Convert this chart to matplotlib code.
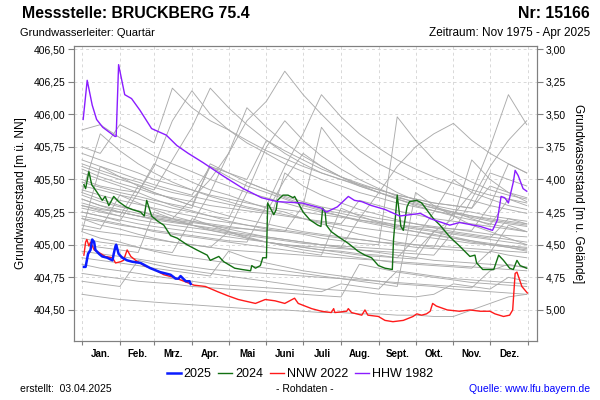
import matplotlib
matplotlib.use("Agg")
import matplotlib.pyplot as plt
from matplotlib.ticker import FuncFormatter

plt.rcParams['font.family'] = ['Liberation Sans', 'DejaVu Sans']

GROUND = 409.50  # Gelaendehoehe [m ü. NN]

month_edges = [0, 31, 59, 90, 120, 151, 181, 212, 243, 273, 304, 334, 365]
month_names = ['Jan.', 'Feb.', 'Mrz.', 'Apr.', 'Mai', 'Juni', 'Juli', 'Aug.',
               'Sept.', 'Okt.', 'Nov.', 'Dez.']
left_ticks = [404.50, 404.75, 405.00, 405.25, 405.50, 405.75, 406.00, 406.25, 406.50]
right_ticks = [3.00, 3.25, 3.50, 3.75, 4.00, 4.25, 4.50, 4.75, 5.00]

grey_days = [0, 15, 31, 46, 59, 74, 90, 105, 120, 135, 151, 166, 181, 196, 212,
             227, 243, 258, 273, 288, 304, 319, 334, 349, 364]
grey_years = [
    [405.55, 405.50, 405.45, 405.40, 405.62, 405.55, 405.48, 405.42, 405.38, 405.33, 405.28, 405.25, 405.20, 405.16, 405.12, 405.08, 405.05, 405.02, 405.00, 404.98, 405.25, 405.20, 405.15, 405.35, 405.30],
    [405.30, 405.26, 405.22, 405.45, 405.40, 405.35, 405.30, 405.60, 405.52, 405.45, 405.40, 405.35, 405.30, 405.26, 405.22, 405.18, 405.15, 405.12, 405.10, 405.08, 405.05, 405.02, 405.00, 404.98, 404.95],
    [405.75, 405.70, 405.92, 405.85, 405.78, 406.20, 406.05, 405.95, 405.88, 405.80, 405.72, 405.66, 405.60, 405.55, 405.50, 405.46, 405.42, 405.38, 405.35, 405.32, 405.30, 405.28, 405.45, 405.40, 405.36],
    [405.40, 405.35, 405.30, 405.26, 405.22, 405.20, 405.35, 405.50, 405.70, 405.95, 406.10, 406.33, 406.15, 406.00, 405.85, 405.72, 405.62, 405.55, 405.48, 405.42, 405.38, 405.34, 405.30, 405.27, 405.24],
    [404.62, 404.60, 404.58, 404.57, 404.56, 404.55, 404.54, 404.53, 404.52, 404.51, 404.50, 404.50, 404.49, 404.48, 404.48, 404.47, 404.47, 404.46, 404.46, 404.45, 404.45, 404.50, 404.55, 404.60, 404.62],
    [404.72, 404.70, 404.68, 404.88, 404.85, 404.82, 404.80, 404.78, 404.76, 404.74, 404.72, 404.70, 404.68, 404.66, 404.65, 404.64, 404.62, 404.61, 404.60, 404.62, 404.70, 404.68, 404.66, 404.75, 404.72],
    [405.10, 405.05, 405.02, 404.98, 404.95, 404.92, 404.90, 404.88, 404.86, 404.84, 404.82, 404.80, 404.78, 404.76, 404.74, 404.72, 404.70, 404.68, 405.40, 405.30, 405.22, 405.15, 405.10, 405.05, 405.00],
    [405.20, 405.15, 405.12, 405.08, 405.05, 405.02, 405.00, 404.98, 405.10, 405.05, 405.02, 405.00, 404.98, 404.96, 404.95, 404.93, 404.92, 404.90, 405.05, 405.25, 405.50, 405.40, 405.75, 406.15, 405.92],
    [405.35, 405.30, 405.25, 405.22, 405.20, 405.18, 405.15, 405.12, 405.10, 405.08, 405.06, 405.04, 405.02, 405.00, 404.98, 405.20, 405.40, 405.60, 405.75, 405.85, 405.93, 405.80, 405.70, 405.62, 405.55],
    [405.25, 405.22, 405.18, 405.40, 405.35, 405.30, 405.26, 405.22, 405.18, 405.15, 405.12, 405.10, 405.08, 405.05, 405.03, 405.01, 405.00, 405.98, 405.80, 405.65, 405.55, 405.48, 405.42, 405.38, 405.35],
    [405.60, 405.55, 405.50, 405.46, 405.42, 405.65, 405.90, 406.20, 406.05, 405.92, 405.80, 405.70, 405.62, 405.55, 405.50, 405.45, 405.40, 405.36, 405.33, 405.30, 405.27, 405.25, 405.22, 405.20, 405.18],
    [405.45, 405.42, 405.38, 405.35, 405.32, 405.28, 405.25, 405.22, 405.20, 405.48, 405.42, 405.36, 405.31, 405.27, 405.24, 405.21, 405.18, 405.15, 405.13, 405.11, 405.09, 405.07, 405.05, 405.20, 405.16],
    [405.15, 405.12, 405.38, 405.32, 405.27, 405.22, 405.18, 405.15, 405.12, 405.09, 405.06, 405.04, 405.02, 405.00, 404.98, 404.96, 404.94, 404.92, 404.90, 404.88, 404.87, 404.86, 404.85, 404.84, 404.83],
    [405.50, 405.45, 405.42, 405.40, 405.60, 405.95, 406.18, 406.00, 405.88, 405.78, 405.70, 405.62, 405.56, 405.50, 405.45, 405.40, 405.36, 405.32, 405.29, 405.26, 405.23, 405.40, 405.35, 405.30, 405.27],
    [405.05, 405.02, 405.00, 404.98, 404.96, 404.94, 405.20, 405.15, 405.10, 405.06, 405.02, 404.99, 404.96, 404.94, 404.92, 404.90, 404.88, 404.86, 404.85, 404.84, 404.83, 404.82, 404.95, 404.92, 404.90],
    [405.38, 405.33, 405.29, 405.26, 405.23, 405.20, 405.18, 405.16, 405.14, 405.12, 405.10, 405.55, 405.45, 405.38, 405.32, 405.27, 405.23, 405.19, 405.16, 405.13, 405.10, 405.08, 405.06, 405.04, 405.02],
    [405.88, 405.92, 405.82, 405.75, 405.68, 405.62, 405.56, 405.50, 405.45, 405.40, 405.36, 405.32, 405.28, 405.25, 405.22, 405.19, 405.16, 405.14, 405.12, 405.10, 405.08, 405.06, 405.04, 405.02, 405.00],
    [404.90, 404.88, 404.86, 404.84, 404.82, 404.80, 404.78, 404.76, 404.95, 404.90, 404.86, 404.83, 404.80, 404.78, 404.76, 404.74, 404.72, 404.70, 404.69, 404.68, 404.66, 404.65, 404.64, 404.63, 404.62],
    [405.30, 405.27, 405.25, 405.22, 405.20, 405.18, 405.16, 405.40, 405.70, 406.05, 405.90, 405.78, 405.68, 405.60, 405.52, 405.46, 405.40, 405.35, 405.30, 405.26, 405.22, 405.19, 405.16, 405.13, 405.10],
    [405.20, 405.18, 405.15, 405.13, 405.11, 405.09, 405.07, 405.05, 405.03, 405.02, 405.30, 405.60, 405.85, 406.15, 405.98, 405.85, 405.74, 405.65, 405.58, 405.52, 405.47, 405.42, 405.38, 405.35, 405.32],
    [405.42, 405.38, 405.34, 405.31, 405.28, 405.25, 405.22, 405.19, 405.17, 405.15, 405.13, 405.11, 405.09, 405.07, 405.05, 405.04, 405.02, 405.01, 405.00, 404.99, 404.98, 404.97, 404.96, 404.95, 404.94],
    [405.10, 405.60, 405.52, 405.45, 405.40, 405.35, 405.30, 405.26, 405.22, 405.19, 405.16, 405.13, 405.10, 405.08, 405.06, 405.04, 405.02, 405.00, 404.98, 404.97, 404.96, 404.95, 404.94, 405.15, 405.10],
    [405.65, 405.60, 405.55, 405.50, 405.46, 405.42, 405.38, 405.60, 405.55, 405.50, 405.80, 405.72, 405.65, 405.58, 405.52, 405.47, 405.42, 405.38, 405.35, 405.32, 405.30, 405.28, 405.55, 405.50, 405.45],
    [405.25, 405.22, 405.19, 405.16, 405.14, 405.12, 405.10, 405.08, 405.06, 405.04, 405.02, 405.00, 404.99, 404.98, 404.97, 404.96, 404.95, 404.94, 404.93, 404.92, 405.10, 405.35, 405.60, 405.80, 405.95],
    [404.78, 404.76, 404.74, 404.72, 404.71, 404.70, 404.68, 404.67, 404.66, 404.65, 404.64, 404.63, 404.62, 404.61, 404.60, 404.85, 404.82, 404.79, 404.77, 404.75, 404.73, 404.71, 404.70, 404.69, 404.68],
    [405.00, 404.98, 404.96, 404.94, 405.25, 405.20, 405.15, 405.11, 405.08, 405.05, 405.02, 405.00, 404.98, 404.96, 404.94, 404.92, 404.91, 404.90, 404.89, 405.10, 405.06, 405.03, 405.00, 404.98, 404.96],
    [405.58, 405.52, 405.47, 405.43, 405.39, 405.36, 405.33, 405.30, 405.28, 405.26, 405.24, 405.22, 405.20, 405.18, 405.16, 405.34, 405.30, 405.26, 405.23, 405.20, 405.18, 405.16, 405.14, 405.12, 405.10],
    [405.35, 405.30, 405.27, 405.24, 405.21, 405.19, 405.17, 405.15, 405.13, 405.12, 405.11, 405.10, 405.30, 405.90, 405.70, 405.58, 405.48, 405.40, 405.34, 405.29, 405.25, 405.22, 405.19, 405.17, 405.15],
    [404.85, 404.82, 404.80, 404.78, 404.76, 404.74, 404.72, 404.70, 404.69, 404.68, 404.67, 404.66, 404.65, 404.64, 404.70, 404.68, 404.66, 404.80, 404.78, 404.76, 404.74, 404.73, 404.72, 404.71, 404.70],
    [405.70, 405.65, 405.60, 405.55, 405.50, 405.46, 405.42, 405.38, 405.35, 405.32, 405.29, 405.27, 405.25, 405.23, 405.21, 405.19, 405.17, 405.15, 405.14, 405.13, 405.12, 405.11, 405.30, 405.62, 405.55],
    [405.48, 405.44, 405.40, 405.37, 405.34, 405.31, 405.28, 405.62, 405.55, 405.48, 405.42, 405.37, 405.33, 405.29, 405.26, 405.23, 405.20, 405.18, 405.16, 405.14, 405.12, 405.10, 405.08, 405.07, 405.06],
    [405.22, 405.19, 405.16, 405.13, 405.10, 405.08, 405.06, 405.04, 405.02, 405.00, 404.98, 404.96, 404.94, 404.92, 405.28, 405.22, 405.17, 405.13, 405.10, 405.07, 405.05, 405.03, 405.01, 404.99, 404.97],
    [405.40, 405.85, 405.72, 405.62, 405.55, 405.48, 405.42, 405.37, 405.33, 405.29, 405.26, 405.23, 405.20, 405.17, 405.15, 405.13, 405.11, 405.09, 405.07, 405.05, 405.03, 405.01, 405.00, 404.99, 404.98],
    [405.32, 405.28, 405.25, 405.22, 405.19, 405.17, 405.15, 405.13, 405.11, 405.40, 405.75, 405.95, 405.80, 405.68, 405.58, 405.50, 405.43, 405.37, 405.32, 405.28, 405.24, 405.21, 405.18, 405.16, 405.14],
    [405.12, 405.10, 405.08, 405.06, 405.04, 405.02, 405.00, 404.98, 404.96, 404.95, 404.94, 404.93, 404.92, 404.91, 404.90, 404.89, 404.88, 404.87, 404.86, 404.85, 404.84, 404.83, 404.82, 404.81, 404.80],
    [405.28, 405.25, 405.22, 405.19, 405.17, 405.15, 405.13, 405.11, 405.09, 405.07, 405.05, 405.03, 405.01, 405.00, 404.99, 404.98, 404.97, 404.96, 404.95, 405.10, 405.20, 405.65, 405.50, 405.40, 405.33],
    [405.62, 405.57, 405.52, 405.48, 405.44, 405.40, 405.37, 405.34, 405.31, 405.28, 405.25, 405.50, 405.70, 405.60, 405.52, 405.45, 405.40, 405.35, 405.31, 405.28, 405.25, 405.22, 405.20, 405.18, 405.16],
    [404.95, 404.93, 404.91, 404.89, 404.87, 404.85, 404.83, 404.81, 404.80, 404.79, 404.78, 404.77, 404.76, 404.75, 404.74, 404.73, 404.72, 404.71, 404.70, 404.69, 404.68, 404.67, 404.80, 404.85, 404.82],
]

hhw_days = [1, 4.3, 8.4, 12, 17, 27, 28, 30, 35, 40.6, 47.5, 57, 69, 77.7, 87, 99, 115, 132, 147,
            160, 180, 196, 200, 209, 218, 223, 229, 237, 248, 260, 277, 285, 301, 309, 326, 336,
            340, 343, 346, 349, 353, 354.5, 357, 361, 364]
hhw_vals = [405.96, 406.26, 406.07, 405.96, 405.90, 405.83, 405.83, 406.38, 406.15, 406.12, 406.03,
            405.89, 405.84, 405.76, 405.70, 405.63, 405.53, 405.43, 405.36, 405.33, 405.32, 405.28,
            405.25, 405.29, 405.37, 405.34, 405.33, 405.30, 405.27, 405.22, 405.24, 405.20, 405.15,
            405.17, 405.14, 405.11, 405.19, 405.37, 405.36, 405.32, 405.48, 405.57, 405.53, 405.43,
            405.41]

y2024_days = [1.6, 3, 5.7, 8, 12.5, 16.6, 19, 22, 26, 30, 36, 41, 48, 51, 53, 55, 57, 62, 67, 72.5,
              78, 86, 94, 102.5, 105, 112, 116, 125, 131, 138, 139, 142, 146, 148, 151, 152, 157,
              159, 160, 164.5, 168.6, 172.8, 174, 177, 181, 186.6, 193, 195.6, 197, 199, 200, 204,
              210, 218, 226, 231.6, 237, 242.6, 248, 254, 255, 258, 261, 263, 266, 268, 274, 278,
              282, 287.6, 293, 301, 309, 317.5, 321.6, 323, 328, 337, 341, 345, 350, 353, 356,
              358.6, 364]
y2024_vals = [405.46, 405.43, 405.56, 405.46, 405.40, 405.34, 405.37, 405.30, 405.37, 405.33,
              405.29, 405.27, 405.25, 405.22, 405.34, 405.28, 405.22, 405.18, 405.15, 405.07,
              405.05, 405.00, 404.96, 404.92, 404.88, 404.91, 404.87, 404.82, 404.81, 404.80,
              404.84, 404.82, 404.84, 404.90, 404.90, 405.32, 405.23, 405.27, 405.34, 405.38,
              405.38, 405.36, 405.37, 405.32, 405.25, 405.19, 405.15, 405.14, 405.28, 405.25,
              405.15, 405.10, 405.06, 405.01, 404.95, 404.92, 404.90, 404.84, 404.82, 404.81,
              405.04, 405.38, 405.14, 405.11, 405.29, 405.33, 405.34, 405.32, 405.27, 405.20,
              405.15, 405.06, 404.99, 404.91, 404.92, 404.86, 404.81, 404.81, 404.92, 404.88,
              404.82, 404.81, 404.88, 404.84, 404.82]

nnw_days = [1.6, 3, 4, 5.7, 7, 10, 14, 19, 25, 27.5, 31.7, 34, 37, 40, 44, 51, 59, 67, 75, 83.5,
            91.7, 101, 111, 119, 128, 142, 150, 158, 166, 174, 177, 188, 196, 204, 206, 207, 216.6,
            218, 220.6, 229, 231.6, 234, 242.6, 248, 254.5, 263, 271, 274, 278, 282, 285, 287,
            290, 299, 309, 317.5, 326, 334, 338, 345, 350, 352.5, 354.5, 356, 360, 362.7, 364.5]
nnw_vals = [404.92, 405.02, 405.04, 404.99, 405.02, 404.96, 404.94, 404.91, 404.90, 404.86,
            404.87, 404.88, 404.96, 404.91, 404.88, 404.84, 404.81, 404.77, 404.75, 404.72,
            404.69, 404.68, 404.64, 404.61, 404.58, 404.55, 404.58, 404.57, 404.55, 404.59,
            404.55, 404.51, 404.49, 404.48, 404.51, 404.48, 404.49, 404.51, 404.48, 404.46,
            404.50, 404.46, 404.45, 404.42, 404.41, 404.42, 404.45, 404.47, 404.46, 404.47,
            404.49, 404.55, 404.53, 404.50, 404.49, 404.50, 404.49, 404.49, 404.47, 404.45,
            404.46, 404.50, 404.78, 404.79, 404.68, 404.65, 404.63]

y2025_days = [1.6, 3, 5, 7, 8.4, 10, 11, 14, 16.6, 20.7, 25, 26, 27.5, 28, 30, 33, 37, 41, 48,
              56, 64, 72.5, 76.7, 79, 80.7, 85, 88, 89]
y2025_vals = [404.83, 404.83, 404.93, 404.96, 405.04, 405.02, 404.96, 404.93, 404.91, 404.90,
              404.88, 404.93, 404.99, 405.00, 404.93, 404.90, 404.88, 404.87, 404.86, 404.82,
              404.79, 404.77, 404.74, 404.74, 404.76, 404.72, 404.72, 404.70]

fig = plt.figure(figsize=(6, 4), dpi=100)
ax = fig.add_axes([74 / 600, 59 / 400, 463 / 600, 295 / 400])

grid_kw = dict(color='#d8d8d8', linestyle=(0, (3, 3)), linewidth=0.7, zorder=0)
for t in left_ticks:
    ax.axhline(t, **grid_kw)
for d in month_edges:
    ax.axvline(d, **grid_kw)

for vals in grey_years:
    ax.plot(grey_days, vals, color='#ababab', linewidth=0.65, zorder=1)

ax.plot(y2025_days, y2025_vals, color='#0a1cff', linewidth=1.8, zorder=5, label='2025')
ax.plot(y2024_days, y2024_vals, color='#127012', linewidth=1.0, zorder=4, label='2024')
ax.plot(nnw_days, nnw_vals, color='#ff1a1a', linewidth=1.0, zorder=4, label='NNW 2022')
ax.plot(hhw_days, hhw_vals, color='#8a1cff', linewidth=1.0, zorder=4, label='HHW 1982')

ymin, ymax = 404.262, 406.523
ax.set_xlim(-6.5, 372.4)
ax.set_ylim(ymin, ymax)

comma = FuncFormatter(lambda v, p: f'{v:.2f}'.replace('.', ','))
ax.set_yticks(left_ticks)
ax.yaxis.set_major_formatter(comma)
ax.set_xticks(month_edges)
ax.set_xticklabels([])
mids = [(a + b) / 2 for a, b in zip(month_edges[:-1], month_edges[1:])]
ax.set_xticks(mids, minor=True)
ax.set_xticklabels(month_names, minor=True, fontsize=7, fontweight='bold')
ax.tick_params(axis='x', which='minor', length=0, pad=6)
ax.tick_params(axis='x', which='major', length=3, color='#808080')
ax.tick_params(axis='y', length=4, labelsize=7.5, color='#808080', pad=2)
for s in ax.spines.values():
    s.set_color('#808080')
ax.set_ylabel('Grundwasserstand [m ü. NN]', fontsize=8.5, labelpad=5)

ax2 = ax.twinx()
ax2.set_ylim(GROUND - ymin, GROUND - ymax)
ax2.set_yticks(right_ticks)
ax2.yaxis.set_major_formatter(comma)
ax2.tick_params(axis='y', length=4, labelsize=7.5, color='#808080', pad=2)
for s in ax2.spines.values():
    s.set_color('#808080')
ax2.set_ylabel('Grundwasserstand [m u. Gelände]', fontsize=8.5, rotation=270, labelpad=13)

fig.text(22 / 600, 1 - 14 / 400, 'Messstelle: BRUCKBERG 75.4', fontsize=11.4, fontweight='bold',
         va='center', ha='left')
fig.text(590 / 600, 1 - 14 / 400, 'Nr: 15166', fontsize=11.4, fontweight='bold', va='center', ha='right')
fig.text(20 / 600, 1 - 33 / 400, 'Grundwasserleiter: Quartär', fontsize=8, va='center', ha='left')
fig.text(590 / 600, 1 - 33 / 400, 'Zeitraum: Nov 1975 - Apr 2025', fontsize=8.5, va='center', ha='right')

fig.legend(loc='center', bbox_to_anchor=(300 / 600, 1 - 374 / 400), ncol=4, frameon=False,
           fontsize=9, handlelength=1.1, handletextpad=0.25, columnspacing=0.55)

fig.text(20 / 600, 1 - 389 / 400, 'erstellt:  03.04.2025', fontsize=7.5, va='center', ha='left')
fig.text(305 / 600, 1 - 389 / 400, '- Rohdaten -', fontsize=7.5, va='center', ha='center')
fig.text(590 / 600, 1 - 389 / 400, 'Quelle: www.lfu.bayern.de', fontsize=7.5, va='center',
         ha='right', color='#0000ff')

fig.savefig('out.png', dpi=100)
